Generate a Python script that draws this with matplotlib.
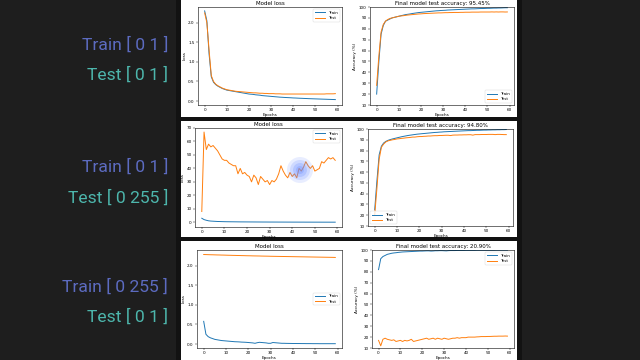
import matplotlib
matplotlib.use("Agg")
import matplotlib.pyplot as plt
from matplotlib.patches import Rectangle, Ellipse

epochs = list(range(60))

# Row 1: Train [0 1] / Test [0 1]
loss1_train = [2.30, 2.05, 1.20, 0.62, 0.48, 0.42, 0.38, 0.35, 0.32, 0.30, 0.28, 0.27, 0.26, 0.25, 0.24,
               0.23, 0.22, 0.21, 0.20, 0.19, 0.18, 0.175, 0.17, 0.16, 0.155, 0.15, 0.14, 0.135, 0.13, 0.125,
               0.12, 0.115, 0.11, 0.105, 0.10, 0.097, 0.093, 0.09, 0.087, 0.084, 0.08, 0.078, 0.075, 0.072, 0.07,
               0.067, 0.065, 0.062, 0.06, 0.058, 0.056, 0.054, 0.052, 0.05, 0.048, 0.046, 0.044, 0.042, 0.04, 0.038]
loss1_test = [2.25, 2.00, 1.30, 0.65, 0.50, 0.43, 0.39, 0.36, 0.33, 0.31, 0.29, 0.28, 0.27, 0.26, 0.25,
              0.245, 0.24, 0.235, 0.23, 0.225, 0.22, 0.215, 0.21, 0.21, 0.205, 0.20, 0.20, 0.195, 0.195, 0.19,
              0.19, 0.19, 0.185, 0.185, 0.185, 0.18, 0.18, 0.18, 0.18, 0.18, 0.18, 0.18, 0.18, 0.18, 0.18,
              0.18, 0.18, 0.18, 0.18, 0.18, 0.18, 0.18, 0.18, 0.18, 0.18, 0.185, 0.185, 0.185, 0.185, 0.19]
acc1_train = [20, 50, 75, 83, 87, 88, 89, 90, 90.5, 91, 91.5, 92, 92.5, 93, 93.3, 93.6, 94, 94.3, 94.6, 94.9,
              95.1, 95.3, 95.5, 95.7, 95.9, 96.1, 96.3, 96.5, 96.6, 96.8, 96.9, 97.0, 97.2, 97.3, 97.4, 97.5,
              97.6, 97.7, 97.8, 97.9, 98.0, 98.1, 98.2, 98.3, 98.3, 98.4, 98.5, 98.6, 98.6, 98.7, 98.8, 98.8,
              98.9, 99.0, 99.0, 99.1, 99.1, 99.2, 99.3, 99.3]
acc1_test = [28, 55, 77, 84, 87, 88.5, 89.5, 90, 90.5, 91, 91.5, 91.8, 92, 92.3, 92.6, 92.8, 93, 93.2, 93.4,
             93.6, 93.7, 93.9, 94, 94.1, 94.2, 94.3, 94.4, 94.5, 94.6, 94.6, 94.7, 94.8, 94.8, 94.9, 94.9, 95,
             95, 95, 95.1, 95.1, 95.2, 95.2, 95.2, 95.3, 95.3, 95.3, 95.3, 95.4, 95.4, 95.4, 95.4, 95.4, 95.5,
             95.4, 95.5, 95.4, 95.5, 95.5, 95.4, 95.45]

# Row 2: Train [0 1] / Test [0 255]
loss2_train = [3.0, 2.0, 1.5, 1.1, 0.9, 0.8, 0.7, 0.6, 0.55, 0.5, 0.45, 0.42, 0.4, 0.38, 0.36, 0.34, 0.32,
               0.3, 0.29, 0.28, 0.27, 0.26, 0.25, 0.24, 0.23, 0.22, 0.21, 0.2, 0.2, 0.19, 0.18, 0.18, 0.17,
               0.17, 0.16, 0.16, 0.15, 0.15, 0.14, 0.14, 0.13, 0.13, 0.13, 0.12, 0.12, 0.12, 0.11, 0.11, 0.11,
               0.1, 0.1, 0.1, 0.1, 0.09, 0.09, 0.09, 0.09, 0.08, 0.08, 0.08]
loss2_test = [8, 67, 54, 58, 56, 57, 55, 53, 50, 47, 46, 46, 44, 43, 42, 42, 36, 40, 36, 37, 35, 34, 30, 35,
              33, 28, 34, 32, 30, 31, 28, 31, 30, 32, 36, 42, 38, 35, 33, 37, 34, 36, 33, 40, 38, 41, 45, 42,
              40, 42, 38, 39, 40, 45, 44, 46, 48, 47, 48, 46]
acc2_train = [25, 52, 76, 84, 87, 88.5, 89.5, 90.2, 90.8, 91.3, 91.8, 92.3, 92.8, 93.2, 93.6, 94, 94.3, 94.6,
              94.9, 95.2, 95.4, 95.6, 95.8, 96, 96.2, 96.4, 96.6, 96.8, 96.9, 97.1, 97.2, 97.4, 97.5, 97.6,
              97.7, 97.8, 97.9, 98, 98.1, 98.2, 98.3, 98.4, 98.5, 98.5, 98.6, 98.7, 98.8, 98.8, 98.9, 99,
              99, 99.1, 99.1, 99.2, 99.2, 99.3, 99.3, 99.4, 99.4, 99.5]
acc2_test = [20, 45, 72, 83, 86, 88, 89, 89.5, 90, 90.3, 90.8, 91, 91.3, 91.5, 91.8, 92, 92.2, 92.5, 92.5,
             92.8, 93, 93, 93.2, 93.3, 93.5, 93.5, 93.7, 93.8, 93.8, 94, 94, 94.1, 94.2, 94.2, 93.9, 94.3,
             94.4, 94.4, 94.5, 94.5, 94.6, 94.6, 94.7, 94.7, 94.3, 94.8, 94.8, 94.8, 94.9, 94.9, 94.9, 95,
             95, 95, 94.8, 95, 95, 94.9, 94.8, 94.8]

# Row 3: Train [0 255] / Test [0 1]
loss3_train = [0.58, 0.25, 0.19, 0.16, 0.14, 0.12, 0.11, 0.10, 0.09, 0.085, 0.08, 0.075, 0.07, 0.065, 0.06,
               0.058, 0.055, 0.05, 0.048, 0.045, 0.04, 0.035, 0.03, 0.02, 0.035, 0.045, 0.04, 0.035, 0.03,
               0.02, 0.02, 0.04, 0.035, 0.03, 0.025, 0.02, 0.02, 0.018, 0.017, 0.016, 0.015, 0.015, 0.014,
               0.014, 0.013, 0.013, 0.012, 0.012, 0.012, 0.011, 0.011, 0.011, 0.01, 0.01, 0.01, 0.01, 0.01,
               0.01, 0.01, 0.01]
loss3_test = [2.285, 2.283, 2.281, 2.279, 2.278, 2.276, 2.274, 2.273, 2.271, 2.27, 2.268, 2.266, 2.265,
              2.263, 2.262, 2.26, 2.259, 2.257, 2.256, 2.254, 2.253, 2.252, 2.25, 2.249, 2.248, 2.247, 2.245,
              2.244, 2.243, 2.242, 2.24, 2.239, 2.238, 2.237, 2.236, 2.235, 2.234, 2.233, 2.232, 2.231, 2.23,
              2.229, 2.228, 2.227, 2.226, 2.225, 2.224, 2.223, 2.222, 2.221, 2.22, 2.219, 2.218, 2.217, 2.216,
              2.215, 2.214, 2.213, 2.212, 2.21]
acc3_train = [82, 92, 94, 95, 96, 96.5, 97, 97.3, 97.5, 97.8, 98, 98.2, 98.3, 98.4, 98.5, 98.6, 98.7, 98.8,
              98.9, 99, 99, 99.1, 99.2, 99.2, 99, 99.1, 99.3, 99.3, 99.4, 99.4, 99.3, 99.2, 99.4, 99.5, 99.5,
              99.5, 99.6, 99.6, 99.6, 99.6, 99.7, 99.7, 99.7, 99.7, 99.7, 99.8, 99.8, 99.8, 99.8, 99.8, 99.8,
              99.8, 99.8, 99.8, 99.9, 99.9, 99.9, 99.9, 99.9, 99.9]
acc3_test = [17, 12, 18, 19, 18, 17.5, 17, 17.5, 16, 16.5, 17, 16, 17, 16.5, 17, 18, 16, 16.5, 17, 17.5, 18,
             18.5, 19, 18, 18.5, 19, 18, 19, 18.5, 18, 19, 18.5, 18, 18.5, 19, 19, 19.5, 19, 19.5, 19.5, 19.5,
             20, 20, 20, 20, 20.2, 20.3, 20.5, 20.5, 20.5, 20.6, 20.6, 20.7, 20.8, 20.8, 20.9, 20.9, 20.9, 21,
             20.9]

final_acc = ["95.45%", "94.80%", "20.90%"]
row_labels = [("Train [ 0 1 ]", "Test [ 0 1 ]"),
              ("Train [ 0 1 ]", "Test [ 0 255 ]"),
              ("Train [ 0 255 ]", "Test [ 0 1 ]")]

W, H = 640, 360
fig = plt.figure(figsize=(6.4, 3.6), dpi=100)
fig.patch.set_facecolor("#1e1e1e")

def px_rect(x0, y0, x1, y1):
    return [x0 / W, 1 - y1 / H, (x1 - x0) / W, (y1 - y0) / H]

# dark separators and white panels (drawn beneath the axes)
fig.patches.append(Rectangle((176 / W, 0), (522 - 176) / W, 1, transform=fig.transFigure,
                             facecolor="#121212", edgecolor="none", zorder=-10))
for (y0, y1) in [(0, 117), (121, 237), (241, 360)]:
    fig.patches.append(Rectangle((181 / W, 1 - y1 / H), (517 - 181) / W, (y1 - y0) / H,
                                 transform=fig.transFigure, facecolor="white", edgecolor="none",
                                 zorder=-9))

# left labels
label_y = [(45, 75), (167, 198), (287, 317)]
for (tr, te), (ya, yb) in zip(row_labels, label_y):
    fig.text(168 / W, 1 - ya / H, tr, color="#5c6bc0", fontsize=12.6, family="Roboto",
             ha="right", va="center")
    fig.text(168 / W, 1 - yb / H, te, color="#4db6ac", fontsize=12.6, family="Roboto",
             ha="right", va="center")

loss_boxes = [(198, 7, 342, 105), (195, 128, 342, 227), (197, 250, 342, 348)]
acc_boxes = [(370, 7, 514, 105), (368, 129, 513, 226), (372, 250, 514, 348)]
loss_data = [(loss1_train, loss1_test), (loss2_train, loss2_test), (loss3_train, loss3_test)]
acc_data = [(acc1_train, acc1_test), (acc2_train, acc2_test), (acc3_train, acc3_test)]
loss_leg = ["upper right", "upper right", "center right"]
acc_leg = ["lower right", "lower left", "upper right"]

FS = 3.0
def style(ax):
    ax.tick_params(labelsize=FS, length=1.5, width=0.3, pad=1)
    for s in ax.spines.values():
        s.set_linewidth(0.4)
    ax.set_xticks([0, 10, 20, 30, 40, 50, 60])

for i in range(3):
    ax = fig.add_axes(px_rect(*loss_boxes[i]))
    tr, te = loss_data[i]
    ax.plot(epochs, tr, color="#1f77b4", lw=0.7, label="Train")
    ax.plot(epochs, te, color="#ff7f0e", lw=0.7, label="Test")
    ax.set_title("Model loss", fontsize=4, pad=1.5)
    ax.set_xlabel("Epochs", fontsize=FS, labelpad=0.5)
    ax.set_ylabel("Loss", fontsize=FS, labelpad=1)
    style(ax)
    if i == 1:
        ax.set_yticks([0, 10, 20, 30, 40, 50, 60, 70])
        ax.set_ylim(-3.5, 70)
    else:
        ax.set_yticks([0.0, 0.5, 1.0, 1.5, 2.0])
        ax.set_ylim(-0.1, 2.4)
    ax.set_xlim(-3, 62)
    ax.legend(loc=loss_leg[i], fontsize=FS, handlelength=2.5, borderpad=0.4, labelspacing=0.3,
              frameon=True, framealpha=0.8, edgecolor="#cccccc").get_frame().set_linewidth(0.3)

    ax2 = fig.add_axes(px_rect(*acc_boxes[i]))
    tr, te = acc_data[i]
    ax2.plot(epochs, tr, color="#1f77b4", lw=0.7, label="Train")
    ax2.plot(epochs, te, color="#ff7f0e", lw=0.7, label="Test")
    ax2.set_title("Final model test accuracy: " + final_acc[i], fontsize=4, pad=1.5)
    ax2.set_xlabel("Epochs", fontsize=FS, labelpad=0.5)
    ax2.set_ylabel("Accuracy (%)", fontsize=FS, labelpad=1)
    style(ax2)
    ax2.set_yticks(list(range(10, 101, 10)))
    ax2.set_ylim(10, 100)
    ax2.set_xlim(-3, 62)
    ax2.legend(loc=acc_leg[i], fontsize=FS, handlelength=2.5, borderpad=0.4, labelspacing=0.3,
               frameon=True, framealpha=0.8, edgecolor="#cccccc").get_frame().set_linewidth(0.3)

# cursor highlight
for r, a in [(13, 0.15), (10, 0.2), (7, 0.25), (4, 0.3)]:
    fig.patches.append(Ellipse((300 / W, 1 - 170 / H), 2 * r / W, 2 * r / H, transform=fig.transFigure,
                               facecolor="#6a8cff", edgecolor="none", alpha=a, zorder=5))

fig.savefig("out.png", dpi=100, facecolor=fig.get_facecolor())
